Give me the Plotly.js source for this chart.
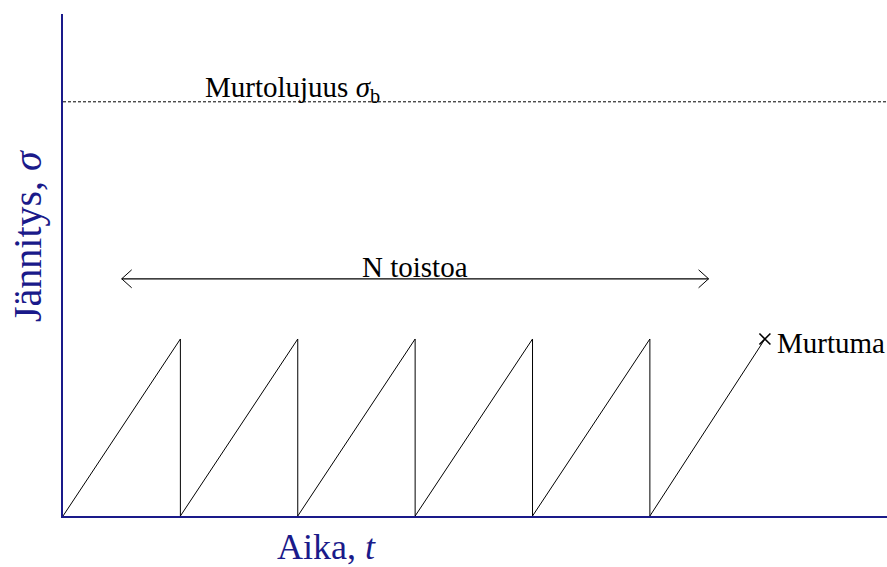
<!DOCTYPE html>
<html>
<head>
<meta charset="utf-8">
<script src="https://cdn.plot.ly/plotly-3.0.1.min.js"></script>
<style>html,body{margin:0;padding:0;background:#fff;}#chart{width:887px;height:567px;}</style>
</head>
<body>
<div id="chart"></div>
<script>
// Data
const cycleTimes = [0, 1, 2, 3, 4, 5];      // start of each load cycle
const peakStress = 1.0;                      // stress reached each cycle
const fractureTime = 5.98;                   // time at fracture
const ultimateStrength = 2.34;               // Murtolujuus level
const arrowStart = 0.5, arrowEnd = 5.5, arrowLevel = 1.34;
const xRange = [0, 7.02];
const yRange = [0, 2.836];

const labelUltimate = "Murtolujuus <i>σ</i><sub>b</sub>";
const labelCycles = "N toistoa";
const labelFracture = "Murtuma";
const xTitle = "Aika, <i>t</i>";
const yTitle = "Jännitys, <i>σ</i>";

// Build sawtooth
const sx = [], sy = [];
for (let i = 0; i < cycleTimes.length - 1; i++) {
  sx.push(cycleTimes[i], cycleTimes[i + 1], cycleTimes[i + 1]);
  sy.push(0, peakStress, 0);
}
sx.push(cycleTimes[cycleTimes.length - 1], fractureTime);
sy.push(0, peakStress);

// chevron geometry (in data units)
const pxX = 824 / (xRange[1] - xRange[0]);
const pxY = 502 / (yRange[1] - yRange[0]);
const ax = 10 / pxX, ay = 9 / pxY;

const ink = "#000";
const navy = "#1a1a8a";
const serif = "Liberation Serif";

const traces = [
  { x: sx, y: sy, mode: "lines", line: { color: ink, width: 1 }, hoverinfo: "skip" },
  { x: xRange, y: [ultimateStrength, ultimateStrength], mode: "lines",
    line: { color: ink, width: 1, dash: "3px,2px" }, hoverinfo: "skip" },
  { x: [arrowStart, arrowEnd], y: [arrowLevel, arrowLevel], mode: "lines",
    line: { color: ink, width: 1.2 }, hoverinfo: "skip" },
  { x: [arrowStart + ax, arrowStart, arrowStart + ax, null, arrowEnd - ax, arrowEnd, arrowEnd - ax],
    y: [arrowLevel + ay, arrowLevel, arrowLevel - ay, null, arrowLevel + ay, arrowLevel, arrowLevel - ay],
    mode: "lines", line: { color: ink, width: 1 }, hoverinfo: "skip" },
  { x: [fractureTime], y: [peakStress], mode: "markers",
    marker: { symbol: "x-thin", size: 11, line: { color: ink, width: 1.6 } }, hoverinfo: "skip" }
];

const layout = {
  width: 887, height: 567,
  margin: { l: 63, r: 0, t: 14, b: 51, pad: 0 },
  paper_bgcolor: "#fff", plot_bgcolor: "#fff",
  showlegend: false,
  font: { family: serif, color: ink, size: 28 },
  xaxis: { range: xRange, showline: true, linecolor: navy, linewidth: 2,
    showgrid: false, zeroline: false, showticklabels: false, ticks: "", fixedrange: true },
  yaxis: { range: yRange, showline: true, linecolor: navy, linewidth: 2,
    showgrid: false, zeroline: false, showticklabels: false, ticks: "", fixedrange: true },
  annotations: [
    { x: 1.19, y: ultimateStrength, xref: "x", yref: "y", xanchor: "left", yanchor: "middle",
      yshift: 13, text: labelUltimate, showarrow: false, font: { family: serif, size: 29, color: ink } },
    { x: 3.0, y: arrowLevel, xref: "x", yref: "y", xanchor: "center", yanchor: "middle",
      yshift: 12, text: labelCycles, showarrow: false, font: { family: serif, size: 29, color: ink } },
    { x: fractureTime, y: peakStress, xref: "x", yref: "y", xanchor: "left", yanchor: "middle",
      xshift: 10, yshift: -4, text: labelFracture, showarrow: false, font: { family: serif, size: 29, color: ink } },
    { x: (326 - 63) / 824, y: -(547 - 516) / 502, xref: "paper", yref: "paper",
      xanchor: "center", yanchor: "middle", text: xTitle, showarrow: false,
      font: { family: serif, size: 36, color: navy } },
    { x: -(63 - 27) / 824, y: (516 - 236) / 502, xref: "paper", yref: "paper",
      xanchor: "center", yanchor: "middle", text: yTitle, showarrow: false, textangle: -90,
      font: { family: serif, size: 40, color: navy } }
  ]
};

Plotly.newPlot("chart", traces, layout, { staticPlot: true });
</script>
</body>
</html>
